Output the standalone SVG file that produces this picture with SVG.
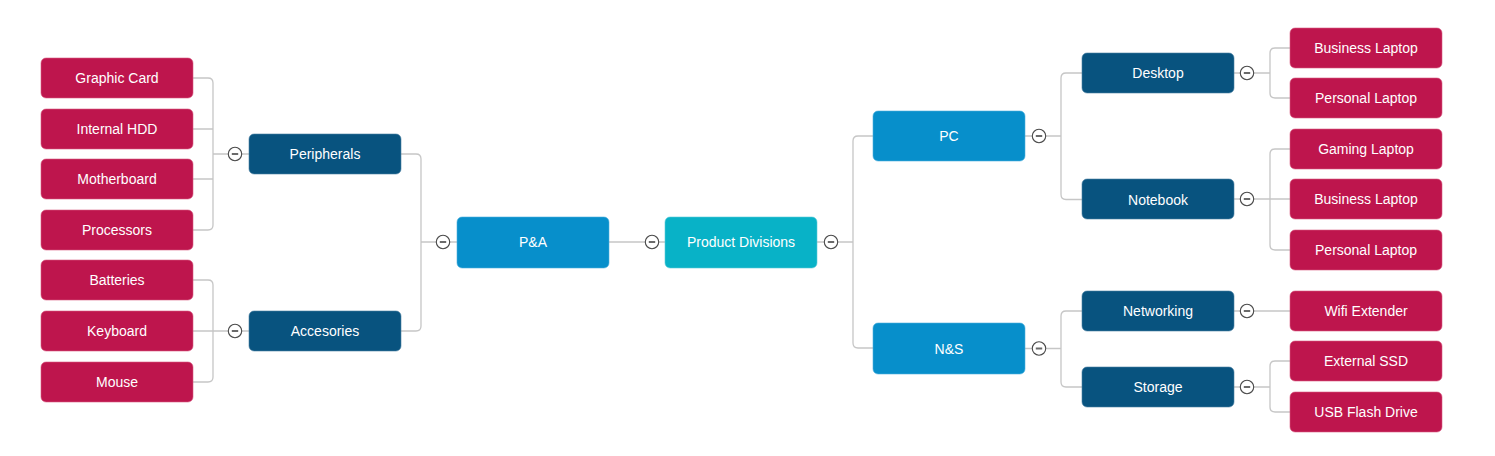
<svg xmlns="http://www.w3.org/2000/svg" xmlns:xlink="http://www.w3.org/1999/xlink" width="1495" height="456" viewBox="0 0 1495 456">
<style>
.leaf{fill:#BE154D;stroke:#d85a82;stroke-width:0.6}
.dark{fill:#08537F;stroke:#4a7fa3;stroke-width:0.6}
.mid{fill:#078FCB;stroke:#4fb0de;stroke-width:0.6}
.root{fill:#08B2C7;stroke:#5ccbd8;stroke-width:0.6}
text{font-family:"Liberation Sans",Arial,sans-serif;font-size:14px;fill:#ffffff;text-anchor:middle}
.con{fill:none;stroke:#c6c6c6;stroke-width:1.3}
</style>
<defs>
<g id="btn">
<circle cx="0" cy="0" r="6.7" fill="#ffffff" stroke="#4a4a4a" stroke-width="1.1"/>
<line x1="-3.2" y1="0" x2="3.2" y2="0" stroke="#6a6a6a" stroke-width="2"/>
</g>
</defs>
<rect width="1495" height="456" fill="#ffffff"/>
<g id="connectors">
<path class="con" d="M193,78 H208 Q213,78 213,83 V225 Q213,230 208,230 H193 M193,129 H213 M193,179 H213 M213,154 H228.3 M241.7,154 H249"/>
<path class="con" d="M193,280 H208 Q213,280 213,285 V377 Q213,382 208,382 H193 M193,331 H228.3 M241.7,331 H249"/>
<path class="con" d="M401,154 H416 Q421,154 421,159 V326 Q421,331 416,331 H401 M421,242 H436.3 M449.7,242 H457"/>
<path class="con" d="M609,242 H645.3 M658.7,242 H665"/>
<path class="con" d="M817,242 H824.3 M837.7,242 H853 M873,136 H858 Q853,136 853,141 V343 Q853,348 858,348 H873"/>
<path class="con" d="M1025,136 H1032.3 M1045.7,136 H1061 M1082,73 H1066 Q1061,73 1061,78 V194.5 Q1061,199.5 1066,199.5 H1082"/>
<path class="con" d="M1025,348.5 H1032.3 M1045.7,348.5 H1061 M1082,311 H1066 Q1061,311 1061,316 V382 Q1061,387 1066,387 H1082"/>
<path class="con" d="M1234,73 H1240.3 M1253.7,73 H1270 M1290,48 H1275 Q1270,48 1270,53 V93 Q1270,98 1275,98 H1290"/>
<path class="con" d="M1234,199 H1240.3 M1253.7,199 H1290 M1290,149 H1275 Q1270,149 1270,154 V245 Q1270,250 1275,250 H1290"/>
<path class="con" d="M1234,311 H1240.3 M1253.7,311 H1290"/>
<path class="con" d="M1234,387 H1240.3 M1253.7,387 H1270 M1290,361 H1275 Q1270,361 1270,366 V407 Q1270,412 1275,412 H1290"/>
</g>
<g id="buttons">
<use xlink:href="#btn" x="235" y="154"/>
<use xlink:href="#btn" x="235" y="331"/>
<use xlink:href="#btn" x="443" y="242"/>
<use xlink:href="#btn" x="652" y="242"/>
<use xlink:href="#btn" x="831" y="242"/>
<use xlink:href="#btn" x="1039" y="136"/>
<use xlink:href="#btn" x="1039" y="348.5"/>
<use xlink:href="#btn" x="1247" y="73"/>
<use xlink:href="#btn" x="1247" y="199"/>
<use xlink:href="#btn" x="1247" y="311"/>
<use xlink:href="#btn" x="1247" y="387"/>
</g>
<g id="node-graphic-card"><rect class="leaf" x="41" y="58" width="152" height="40" rx="5"/><text x="117" y="83">Graphic Card</text></g>
<g id="node-internal-hdd"><rect class="leaf" x="41" y="109" width="152" height="40" rx="5"/><text x="117" y="134">Internal HDD</text></g>
<g id="node-motherboard"><rect class="leaf" x="41" y="159" width="152" height="40" rx="5"/><text x="117" y="184">Motherboard</text></g>
<g id="node-processors"><rect class="leaf" x="41" y="210" width="152" height="40" rx="5"/><text x="117" y="235">Processors</text></g>
<g id="node-batteries"><rect class="leaf" x="41" y="260" width="152" height="40" rx="5"/><text x="117" y="285">Batteries</text></g>
<g id="node-keyboard"><rect class="leaf" x="41" y="311" width="152" height="40" rx="5"/><text x="117" y="336">Keyboard</text></g>
<g id="node-mouse"><rect class="leaf" x="41" y="362" width="152" height="40" rx="5"/><text x="117" y="387">Mouse</text></g>
<g id="node-peripherals"><rect class="dark" x="249" y="134" width="152" height="40" rx="5"/><text x="325" y="159">Peripherals</text></g>
<g id="node-accesories"><rect class="dark" x="249" y="311" width="152" height="40" rx="5"/><text x="325" y="336">Accesories</text></g>
<g id="node-pa"><rect class="mid" x="457" y="217" width="152" height="51" rx="5"/><text x="533" y="247">P&amp;A</text></g>
<g id="node-product-divisions"><rect class="root" x="665" y="217" width="152" height="51" rx="5"/><text x="741" y="247">Product Divisions</text></g>
<g id="node-pc"><rect class="mid" x="873" y="111" width="152" height="50" rx="5"/><text x="949" y="141">PC</text></g>
<g id="node-ns"><rect class="mid" x="873" y="323" width="152" height="51" rx="5"/><text x="949" y="353.5">N&amp;S</text></g>
<g id="node-desktop"><rect class="dark" x="1082" y="53" width="152" height="40" rx="5"/><text x="1158" y="78">Desktop</text></g>
<g id="node-notebook"><rect class="dark" x="1082" y="179" width="152" height="40" rx="5"/><text x="1158" y="204.5">Notebook</text></g>
<g id="node-networking"><rect class="dark" x="1082" y="291" width="152" height="40" rx="5"/><text x="1158" y="316">Networking</text></g>
<g id="node-storage"><rect class="dark" x="1082" y="367" width="152" height="40" rx="5"/><text x="1158" y="392">Storage</text></g>
<g id="node-business-laptop-1"><rect class="leaf" x="1290" y="28" width="152" height="40" rx="5"/><text x="1366" y="53">Business Laptop</text></g>
<g id="node-personal-laptop-1"><rect class="leaf" x="1290" y="78" width="152" height="40" rx="5"/><text x="1366" y="103">Personal Laptop</text></g>
<g id="node-gaming-laptop"><rect class="leaf" x="1290" y="129" width="152" height="40" rx="5"/><text x="1366" y="154">Gaming Laptop</text></g>
<g id="node-business-laptop-2"><rect class="leaf" x="1290" y="179" width="152" height="40" rx="5"/><text x="1366" y="204">Business Laptop</text></g>
<g id="node-personal-laptop-2"><rect class="leaf" x="1290" y="230" width="152" height="40" rx="5"/><text x="1366" y="255">Personal Laptop</text></g>
<g id="node-wifi-extender"><rect class="leaf" x="1290" y="291" width="152" height="40" rx="5"/><text x="1366" y="316">Wifi Extender</text></g>
<g id="node-external-ssd"><rect class="leaf" x="1290" y="341" width="152" height="40" rx="5"/><text x="1366" y="366">External SSD</text></g>
<g id="node-usb-flash-drive"><rect class="leaf" x="1290" y="392" width="152" height="40" rx="5"/><text x="1366" y="417">USB Flash Drive</text></g>
</svg>
